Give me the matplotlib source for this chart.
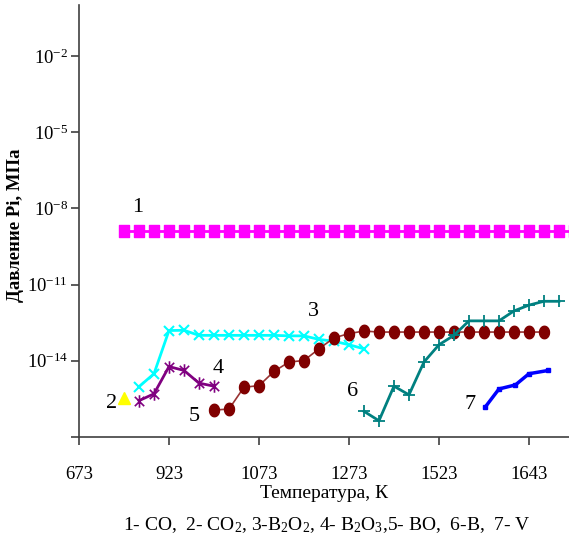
import numpy as np
import matplotlib
matplotlib.use("Agg")
import matplotlib.pyplot as plt
from matplotlib.path import Path

plt.rcParams['font.family'] = ['Liberation Serif', 'DejaVu Serif']
plt.rcParams['mathtext.fontset'] = 'custom'
plt.rcParams['mathtext.rm'] = 'Liberation Serif'
plt.rcParams['mathtext.it'] = 'Liberation Serif:italic'
plt.rcParams['mathtext.bf'] = 'Liberation Serif:bold'

# x positions are in "steps" along the category-like temperature axis (6 steps per tick)
tick_pos = [0, 6, 12, 18, 24, 30]
tick_labels = ['673', '923', '1073', '1273', '1523', '1643']
ytick_vals = [1e-17, 1e-14, 1e-11, 1e-8, 1e-5, 1e-2]
ytick_labels = ['', r'$10^{-14}$', r'$10^{-11}$', r'$10^{-8}$', r'$10^{-5}$', r'$10^{-2}$']

# 1 - CO
co_x = list(range(3, 34))
co_log = [-8.9] * len(co_x)
# 2 - CO2
co2_x = [3]
co2_log = [-15.46]
# 3 - B2O2 (cyan)
b2o2_x = list(range(4, 20))
b2o2_log = [-15.02, -14.51, -12.81, -12.80, -13.0, -13.0, -13.0, -13.0, -13.0, -13.0,
            -13.02, -13.02, -13.16, -13.23, -13.37, -13.53]
# 4 - B2O3 (purple)
b2o3_x = [4, 5, 6, 7, 8, 9]
b2o3_log = [-15.57, -15.30, -14.23, -14.38, -14.88, -15.0]
# 5 - BO (dark red)
bo_x = list(range(9, 32))
bo_log = [-15.94, -15.90, -15.04, -14.98, -14.42, -14.05, -13.99, -13.53, -13.10, -12.93,
          -12.83] + [-12.87] * 12
# 6 - B (teal)
b_x = list(range(19, 33))
b_log = [-15.99, -16.36, -15.0, -15.34, -14.05, -13.37, -13.0, -12.43, -12.43, -12.43,
         -12.04, -11.81, -11.66, -11.66]
# 7 - V (blue)
v_x = [27.1, 28.0, 29.1, 30.0, 31.3]
v_log = [-15.81, -15.11, -14.95, -14.51, -14.38]

curve_labels = ['1', '2', '3', '4', '5', '6', '7']
label_x = [3.93, 2.2, 15.6, 9.27, 7.67, 18.27, 26.07]
label_log = [-7.95, -15.70, -12.06, -14.32, -16.21, -15.19, -15.74]

legend_text = (r'1- CO,  2- CO$_2$, 3-B$_2$O$_2$, 4- B$_2$O$_3$,5- BO,  6-B,  7- V')

def p10(v):
    return [10.0 ** a for a in v]

# custom markers
t = np.linspace(0, 2 * np.pi, 41)
ellipse = Path(np.column_stack([0.8 * np.cos(t), np.sin(t)]), closed=True)
rect = Path([(-0.42, -0.5), (0.42, -0.5), (0.42, 0.5), (-0.42, 0.5), (-0.42, -0.5)], closed=True)
star = Path([(0, -1), (0, 1), (-0.75, -0.75), (0.75, 0.75), (-0.75, 0.75), (0.75, -0.75)],
            [Path.MOVETO, Path.LINETO, Path.MOVETO, Path.LINETO, Path.MOVETO, Path.LINETO])

fig = plt.figure(figsize=(5.69, 5.44), dpi=100)
ax = fig.add_axes([79 / 569, 1 - 437 / 544, 490 / 569, 432 / 544])
ax.set_yscale('log')
ax.set_xlim(0, 32.67)
ax.set_ylim(1e-17, 1e0)

ax.plot(co_x, p10(co_log), color='#FF00FF', lw=2, marker=rect, ms=8.5, mec='#FF00FF', mfc='#FF00FF')
ax.plot(co2_x, p10(co2_log), ls='none', marker='^', color='#FFFF00', ms=8)
ax.plot(b2o2_x, p10(b2o2_log), color='#00FFFF', lw=2, marker='x', ms=7, mew=1.5)
ax.plot(b2o3_x, p10(b2o3_log), color='#800080', lw=2, marker=star, ms=9, mew=1.2)
ax.plot(bo_x, p10(bo_log), color='#993333', lw=1.2, marker=ellipse, ms=9,
        mfc='#800000', mec='#800000')
ax.plot(b_x, p10(b_log), color='#008080', lw=2, marker='+', ms=8, mew=1.3)
ax.plot(v_x, p10(v_log), color='#0000FF', lw=2.5, marker='s', ms=3)

for s, xx, yy in zip(curve_labels, label_x, label_log):
    ax.text(xx, 10 ** yy, s, fontsize=16, ha='center', va='center', color='black')

for sp in ['top', 'right']:
    ax.spines[sp].set_visible(False)
for sp in ['left', 'bottom']:
    ax.spines[sp].set_color('#404040')
    ax.spines[sp].set_linewidth(1.2)

ax.set_xticks(tick_pos)
ax.set_xticklabels(tick_labels, fontsize=13.5)
ax.set_yticks(ytick_vals)
ax.set_yticklabels(ytick_labels, fontsize=13.5)
ax.yaxis.set_minor_locator(matplotlib.ticker.NullLocator())
ax.tick_params(axis='x', direction='out', length=6, width=1.2, color='#404040', pad=15)
ax.tick_params(axis='y', direction='out', length=6, width=1.2, color='#404040', pad=2)

ax.set_xlabel('Температура, К', fontsize=14)
ax.xaxis.set_label_coords(0.5, -0.11)
ax.set_ylabel('Давление Pi, МПа', fontsize=13.5, fontweight='bold')
ax.yaxis.set_label_coords(-0.112, 0.49)

fig.text(327 / 569, 1 - 525 / 544, legend_text, fontsize=14, ha='center', va='center')

fig.savefig('out.png', dpi=100)
